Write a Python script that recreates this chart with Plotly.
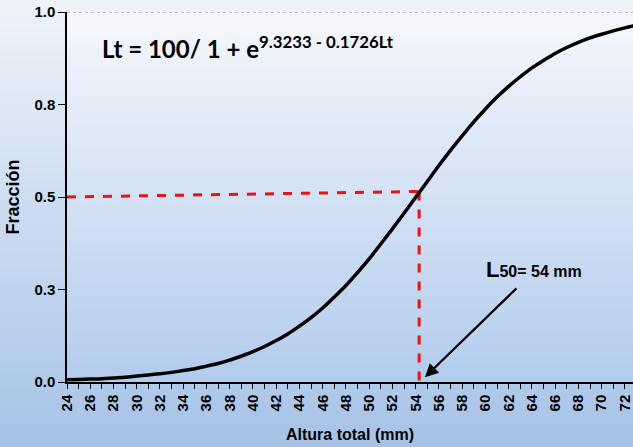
import plotly.graph_objects as go

# Data
altura = list(range(24, 74))
fraccion = [0.006, 0.007, 0.008, 0.009, 0.011, 0.013, 0.016, 0.019, 0.022, 0.026,
            0.031, 0.036, 0.043, 0.050, 0.059, 0.070, 0.082, 0.096, 0.112, 0.130,
            0.151, 0.174, 0.200, 0.230, 0.261, 0.296, 0.333, 0.373, 0.414, 0.456,
            0.499, 0.542, 0.585, 0.626, 0.665, 0.703, 0.738, 0.770, 0.799, 0.825,
            0.849, 0.869, 0.888, 0.904, 0.918, 0.930, 0.940, 0.949, 0.957, 0.964]
x_ticks = list(range(24, 73))
x_ticktext = [str(v) if v % 2 == 0 else "" for v in x_ticks]
y_ticks = [0.0, 0.25, 0.5, 0.75, 1.0]
y_ticktext = ["0.0", "0.3", "0.5", "0.8", "1.0"]
l50 = 54
ref_h = [24, 54.3]
ref_h_y = [0.5, 0.515]

W, H = 633, 447
L, R, T, B = 67, 0, 12, 65
pw, ph = W - L - R, H - T - B

fig = go.Figure()
fig.add_trace(go.Scatter(x=ref_h, y=ref_h_y, mode="lines",
                         line=dict(color="#ee1111", width=3, dash="dash"), hoverinfo="skip"))
fig.add_trace(go.Scatter(x=[l50 + 0.3, l50 + 0.3], y=[ref_h_y[1], 0], mode="lines",
                         line=dict(color="#ee1111", width=3, dash="dash"), hoverinfo="skip"))
fig.add_trace(go.Scatter(x=altura, y=fraccion, mode="lines", line_shape="spline",
                         line=dict(color="black", width=3.5)))


def lerp(c1, c2, t):
    a = [int(c1[i:i + 2], 16) for i in (1, 3, 5)]
    b = [int(c2[i:i + 2], 16) for i in (1, 3, 5)]
    return "rgb(%d,%d,%d)" % tuple(round(a[k] + (b[k] - a[k]) * t) for k in range(3))


shapes = []
n = 60
# outer gradient (whole figure)
y_lo, y_hi = -B / ph, 1 + T / ph
for i in range(n):
    y0 = y_lo + (y_hi - y_lo) * i / n
    y1 = y_lo + (y_hi - y_lo) * (i + 1) / n + 0.002
    shapes.append(dict(type="rect", xref="paper", yref="paper", x0=-L / pw, x1=1.01,
                       y0=y0, y1=y1, line_width=0, layer="below",
                       fillcolor=lerp("#a6c3e7", "#eef3fa", i / (n - 1))))
# inner plot gradient
for i in range(n):
    y0 = i / n
    y1 = (i + 1) / n + 0.002
    shapes.append(dict(type="rect", xref="paper", yref="paper", x0=0, x1=1.01,
                       y0=y0, y1=min(y1, 1), line_width=0, layer="below",
                       fillcolor=lerp("#b3ccec", "#f5f7fc", i / (n - 1))))
# dotted top gridline
shapes.append(dict(type="line", xref="paper", yref="y", x0=0, x1=1, y0=1, y1=1,
                   line=dict(color="#999999", width=1, dash="dot")))

fig.update_layout(
    width=W, height=H,
    margin=dict(l=L, r=R, t=T, b=B),
    paper_bgcolor="#a9c5e8",
    plot_bgcolor="rgba(0,0,0,0)",
    showlegend=False,
    shapes=shapes,
    xaxis=dict(range=[24, 72.7], tickmode="array", tickvals=x_ticks, ticktext=x_ticktext,
               tickangle=-90, ticks="outside", ticklen=5, tickcolor="black",
               ticklabeloverflow="allow",
               showline=True, linecolor="black", linewidth=1.5, showgrid=False, zeroline=False,
               tickfont=dict(family="Liberation Sans", size=15, color="black", weight="bold"),
               title=dict(text="<b>Altura total (mm)</b>", standoff=18,
                          font=dict(family="Liberation Sans", size=16, color="black"))),
    yaxis=dict(range=[0, 1.0], tickmode="array", tickvals=y_ticks, ticktext=y_ticktext,
               ticks="outside", ticklen=7, tickcolor="black",
               showline=True, linecolor="black", linewidth=1.5, showgrid=False, zeroline=False,
               tickfont=dict(family="Liberation Sans", size=15, color="black", weight="bold"),
               title=dict(text="<b>Fracción</b>", standoff=10,
                          font=dict(family="Liberation Sans", size=18, color="black"))),
    annotations=[
        dict(x=39.6, y=0.905, xref="x", yref="y", showarrow=False,
             text="<b>Lt = 100/ 1 + e<sup>9.3233 - 0.1726Lt</sup></b>",
             font=dict(family="Lato", size=24, color="black")),
        dict(x=64.2, y=0.305, xref="x", yref="y", showarrow=False,
             text="<b>L</b><span style='font-size:16px'><b>50= 54 mm</b></span>",
             font=dict(family="Liberation Sans", size=22, color="black")),
        dict(x=54.8, y=0.013, ax=62.8, ay=0.257, xref="x", yref="y", axref="x", ayref="y",
             showarrow=True, arrowhead=2, arrowsize=1.2, arrowwidth=2.2, arrowcolor="black",
             text=""),
    ],
)

fig.write_html("out.html")
